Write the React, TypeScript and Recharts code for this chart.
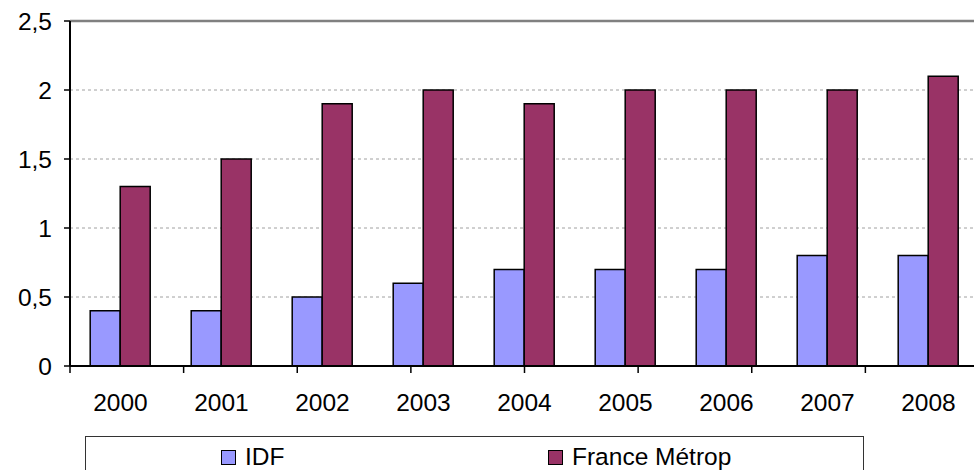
import { BarChart, Bar, XAxis, YAxis, CartesianGrid, ReferenceLine, Legend } from 'recharts'

const years = ['2000', '2001', '2002', '2003', '2004', '2005', '2006', '2007', '2008']
const idf = [0.4, 0.4, 0.5, 0.6, 0.7, 0.7, 0.7, 0.8, 0.8]
const france = [1.3, 1.5, 1.9, 2.0, 1.9, 2.0, 2.0, 2.0, 2.1]
const yTicks = [0, 0.5, 1, 1.5, 2, 2.5]
const boundaries = [0, 1, 2, 3, 4, 5, 6, 7, 8, 9]

const data = years.map((y, i) => ({ year: y, idf: idf[i], france: france[i] }))

const FONT = '"Liberation Sans", Arial, sans-serif'
const FS = 24.5

const YTick = ({ x, y, payload }: any) => (
  <text x={x} y={y} textAnchor="end" dy="0.36em" fontSize={FS} fontFamily={FONT} fill="#000">
    {String(payload.value).replace('.', ',')}
  </text>
)

const XTick = ({ x, y, payload }: any) => (
  <text x={x} y={y} textAnchor="middle" dy="0.36em" fontSize={FS} fontFamily={FONT} fill="#000">
    {payload.value}
  </text>
)

const Swatch = ({ color, left, label }: { color: string; left: number; label: string }) => (
  <div style={{ position: 'absolute', left, top: 11, display: 'flex', alignItems: 'center' }}>
    <span style={{ width: 13, height: 13, background: color, border: '1.5px solid #000', display: 'inline-block' }} />
    <span style={{ marginLeft: 9, fontSize: FS, fontFamily: FONT, color: '#000', lineHeight: '18px' }}>{label}</span>
  </div>
)

const LegendBox = () => (
  <div style={{ position: 'relative', width: 779, height: 40, border: '1px solid #333', boxSizing: 'border-box', background: '#fff' }}>
    <Swatch color="#9999ff" left={135} label="IDF" />
    <Swatch color="#993366" left={462} label="France Métrop" />
  </div>
)

export default function App() {
  return (
    <div style={{ position: 'fixed', left: 0, top: 0, width: 974, height: 470, overflow: 'hidden', background: '#fff' }}>
      <BarChart width={990} height={470} data={data} margin={{ top: 21, right: 11, left: 0, bottom: 0 }} barCategoryGap="20%" barGap={0}>
        <CartesianGrid vertical={false} stroke="#a0a0a0" strokeDasharray="3 3" />
        <XAxis xAxisId="b" type="number" domain={[0, 9]} ticks={boundaries} height={1} axisLine={{ stroke: '#000', strokeWidth: 2 }} tickLine={{ stroke: '#000', strokeWidth: 1.5 }} tickSize={7} tick={() => <g />} allowDataOverflow />
        <XAxis xAxisId="cat" dataKey="year" height={69} axisLine={false} tickLine={false} tickSize={0} tickMargin={35} tick={<XTick />} interval={0} />
        <YAxis domain={[0, 2.5]} ticks={yTicks} width={70} axisLine={{ stroke: '#000', strokeWidth: 2 }} tickLine={{ stroke: '#000', strokeWidth: 1.5 }} tickSize={6} tickMargin={12} tick={<YTick />} interval={0} />
        <ReferenceLine y={2.5} xAxisId="cat" stroke="#808080" strokeWidth={2.5} />
        <Legend verticalAlign="bottom" content={<LegendBox />} wrapperStyle={{ position: 'absolute', left: 85, top: 436, width: 779, height: 34 }} />
        <Bar xAxisId="cat" dataKey="idf" name="IDF" fill="#9999ff" stroke="#000" strokeWidth={1.5} isAnimationActive={false} />
        <Bar xAxisId="cat" dataKey="france" name="France Métrop" fill="#993366" stroke="#000" strokeWidth={1.5} isAnimationActive={false} />
      </BarChart>
    </div>
  )
}
